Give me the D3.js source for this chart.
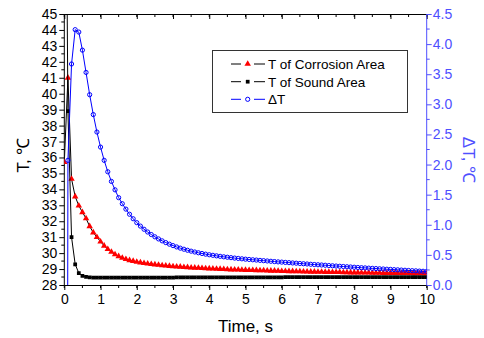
<!DOCTYPE html>
<html><head><meta charset="utf-8">
<script src="https://cdn.jsdelivr.net/npm/d3@7"></script>
<style>
html,body{margin:0;padding:0;background:#fff;}
svg{display:block;font-family:Arial,"Liberation Sans",sans-serif;}
</style></head>
<body>
<svg id="chart" width="484" height="338"></svg>
<script>
const time = [0,0.1,0.2,0.3,0.4,0.5,0.6,0.7,0.8,0.9,1,1.1,1.2,1.3,1.4,1.5,1.6,1.7,1.8,1.9,2,2.1,2.2,2.3,2.4,2.5,2.6,2.7,2.8,2.9,3,3.1,3.2,3.3,3.4,3.5,3.6,3.7,3.8,3.9,4,4.1,4.2,4.3,4.4,4.5,4.6,4.7,4.8,4.9,5,5.1,5.2,5.3,5.4,5.5,5.6,5.7,5.8,5.9,6,6.1,6.2,6.3,6.4,6.5,6.6,6.7,6.8,6.9,7,7.1,7.2,7.3,7.4,7.5,7.6,7.7,7.8,7.9,8,8.1,8.2,8.3,8.4,8.5,8.6,8.7,8.8,8.9,9,9.1,9.2,9.3,9.4,9.5,9.6,9.7,9.8,9.9,10];

const tCorrosion = [35.7,41.0,34.65,33.55,32.98,32.56,32.18,31.68,31.29,31.0,30.72,30.46,30.25,30.07,29.92,29.80,29.70,29.62,29.55,29.50,29.45,29.41,29.37,29.34,29.31,29.28,29.26,29.23,29.21,29.19,29.17,
29.15,29.14,29.12,29.11,29.09,29.08,29.07,29.05,29.04,29.03,
29.02,29.01,29.00,28.99,28.98,28.97,28.96,28.96,28.95,28.94,
28.93,28.93,28.92,28.91,28.91,28.90,28.89,28.89,28.88,28.87,
28.87,28.86,28.86,28.85,28.85,28.84,28.84,28.83,28.83,28.82,
28.82,28.81,28.81,28.80,28.80,28.80,28.79,28.79,28.78,28.78,
28.78,28.77,28.77,28.77,28.76,28.76,28.76,28.75,28.75,28.75,
28.75,28.74,28.74,28.74,28.74,28.73,28.73,28.73,28.73,28.73];

const tSound = [70,38.9,31.0,29.3,28.75,28.58,28.51,28.48,28.47,28.47,28.47,
28.47,28.47,28.47,28.47,28.47,28.47,28.47,28.47,28.47,28.47,28.47,28.47,28.47,28.47,28.47,28.47,28.47,28.47,28.47,28.47,
28.48,28.48,28.48,28.48,28.48,28.48,28.48,28.48,28.48,28.48,28.48,28.48,28.48,28.48,28.48,28.48,28.48,28.48,28.48,28.48,28.48,28.48,28.48,28.48,28.48,28.48,28.48,28.48,28.48,28.48,
28.49,28.49,28.49,28.49,28.49,28.49,28.49,28.49,28.49,28.49,28.49,28.49,28.49,28.49,28.49,28.49,28.49,28.49,28.49,28.49,
28.5,28.5,28.5,28.5,28.5,28.5,28.5,28.5,28.5,28.5,28.5,28.5,28.5,28.5,28.5,28.5,28.5,28.5,28.5,28.5];

const deltaT = [-34.3,2.07,3.67,4.24,4.20,3.90,3.53,3.16,2.83,2.54,2.29,
2.07,1.88,1.72,1.58,1.45,1.35,1.26,1.175,1.10,1.035,
0.978,0.926,0.880,0.838,0.800,0.765,0.733,0.704,0.678,0.654,
0.632,0.612,0.594,0.577,0.562,0.548,0.535,0.523,0.512,0.502,
0.493,0.484,0.476,0.468,0.461,0.454,0.447,0.441,0.435,0.429,
0.424,0.419,0.414,0.409,0.404,0.399,0.394,0.389,0.384,0.380,
0.375,0.371,0.366,0.362,0.357,0.353,0.349,0.344,0.340,0.336,
0.332,0.328,0.323,0.319,0.315,0.311,0.307,0.303,0.299,0.295,
0.291,0.287,0.284,0.280,0.276,0.273,0.269,0.266,0.262,0.259,
0.255,0.252,0.248,0.245,0.241,0.238,0.235,0.231,0.228,0.225];

const xTicks = [0,1,2,3,4,5,6,7,8,9,10];
const yLeftTicks = [28,29,30,31,32,33,34,35,36,37,38,39,40,41,42,43,44,45];
const yRightTicks = [0,0.5,1,1.5,2,2.5,3,3.5,4,4.5];
const legendLabels = ["T of Corrosion Area","T of Sound Area","\u0394T"];

(function(){
const L = 64.3, R = 426.7, T = 14, B = 285;
const AXBLUE = "#4f4fff";
const svg = d3.select("#chart");

const x = d3.scaleLinear().domain([0,10]).range([L,R]);
const yL = d3.scaleLinear().domain([28,45]).range([B,T]);
const yR = d3.scaleLinear().domain([0,4.5]).range([B,T]);

svg.append("defs").append("clipPath").attr("id","clip")
  .append("rect").attr("x",L).attr("y",T).attr("width",R-L).attr("height",B-T);

const fs = 14;
const minorX = d3.range(0,10.01,0.5);
const gBottom = svg.append("g").attr("transform",`translate(0,${B})`)
  .call(d3.axisBottom(x).tickValues(xTicks).tickSize(5).tickSizeOuter(0).tickFormat(d3.format("d")));
gBottom.selectAll("text").attr("font-size",fs).attr("fill","#000").attr("dy","0.9em").attr("y",6);
gBottom.selectAll("line").attr("stroke","#000");
gBottom.select(".domain").remove();
svg.append("g").selectAll("line").data(minorX).join("line")
  .attr("x1",d=>x(d)).attr("x2",d=>x(d)).attr("y1",B).attr("y2",B+3).attr("stroke","#000");

const gTop = svg.append("g").attr("transform",`translate(0,${T})`)
  .call(d3.axisTop(x).tickValues(xTicks).tickSize(-5).tickSizeOuter(0).tickFormat(""));
gTop.selectAll("line").attr("stroke","#000");
gTop.select(".domain").remove();
svg.append("g").selectAll("line").data(minorX).join("line")
  .attr("x1",d=>x(d)).attr("x2",d=>x(d)).attr("y1",T).attr("y2",T+3).attr("stroke","#000");

const gLeft = svg.append("g").attr("transform",`translate(${L},0)`)
  .call(d3.axisLeft(yL).tickValues(yLeftTicks).tickSize(5).tickSizeOuter(0).tickFormat(d3.format("d")));
gLeft.selectAll("text").attr("font-size",fs).attr("fill","#000").attr("x",-7);
gLeft.selectAll("line").attr("stroke","#000");
gLeft.select(".domain").remove();
svg.append("g").selectAll("line").data(d3.range(28.5,45,1)).join("line")
  .attr("x1",L-3).attr("x2",L).attr("y1",d=>yL(d)).attr("y2",d=>yL(d)).attr("stroke","#000");

const gRight = svg.append("g").attr("transform",`translate(${R},0)`)
  .call(d3.axisRight(yR).tickValues(yRightTicks).tickSize(5).tickSizeOuter(0).tickFormat(d3.format(".1f")));
gRight.selectAll("text").attr("font-size",fs).attr("fill",AXBLUE).attr("x",6);
gRight.selectAll("line").attr("stroke",AXBLUE);
gRight.select(".domain").remove();
svg.append("g").selectAll("line").data(d3.range(0.25,4.5,0.5)).join("line")
  .attr("x1",R).attr("x2",R+3).attr("y1",d=>yR(d)).attr("y2",d=>yR(d)).attr("stroke",AXBLUE);

svg.append("line").attr("x1",L).attr("x2",R).attr("y1",B+0.5).attr("y2",B+0.5).attr("stroke","#000");
svg.append("line").attr("x1",L).attr("x2",R).attr("y1",T+0.5).attr("y2",T+0.5).attr("stroke","#000");
svg.append("line").attr("x1",L).attr("x2",L).attr("y1",T).attr("y2",B+0.5).attr("stroke","#000");
svg.append("line").attr("x1",R).attr("x2",R).attr("y1",T).attr("y2",B+0.5).attr("stroke",AXBLUE);

const plot = svg.append("g").attr("clip-path","url(#clip)");
const idx = d3.range(time.length);
const triSym = d3.symbol().type(d3.symbolTriangle).size(18);
const sqSym = d3.symbol().type(d3.symbolSquare).size(14);

plot.append("path").datum(idx).attr("fill","none").attr("stroke","#000").attr("stroke-width",1)
  .attr("d",d3.line().x(i=>x(time[i])).y(i=>yL(tCorrosion[i])));
plot.append("g").selectAll("path").data(idx).join("path")
  .attr("d",triSym).attr("fill","#ff0000")
  .attr("transform",i=>`translate(${x(time[i])},${yL(tCorrosion[i])})`);

plot.append("path").datum(idx).attr("fill","none").attr("stroke","#000").attr("stroke-width",1)
  .attr("d",d3.line().x(i=>x(time[i])).y(i=>yL(tSound[i])));
plot.append("g").selectAll("path").data(idx).join("path")
  .attr("d",sqSym).attr("fill","#000")
  .attr("transform",i=>`translate(${x(time[i])},${yL(tSound[i])})`);

plot.append("path").datum(idx).attr("fill","none").attr("stroke","#0000ff").attr("stroke-width",1)
  .attr("d",d3.line().x(i=>x(time[i])).y(i=>yR(deltaT[i])));
plot.append("g").selectAll("circle").data(idx).join("circle")
  .attr("cx",i=>x(time[i])).attr("cy",i=>yR(deltaT[i])).attr("r",2.1)
  .attr("fill","none").attr("stroke","#0000ff").attr("stroke-width",1);

svg.append("text").attr("x",(L+R)/2).attr("y",332).attr("text-anchor","middle")
  .attr("font-size",17).attr("fill","#000").text("Time, s");
svg.append("text").attr("transform","translate(29,155) rotate(-90)").attr("text-anchor","middle")
  .attr("font-size",17).attr("fill","#000").text("T, \u2103");
svg.append("text").attr("transform","translate(463,160) rotate(90)").attr("text-anchor","middle")
  .attr("font-size",17).attr("fill",AXBLUE).text("\u0394T, \u2103");

const lg = svg.append("g");
lg.append("rect").attr("x",212.5).attr("y",50.5).attr("width",195).attr("height",62)
  .attr("fill","#fff").attr("stroke","#333").attr("stroke-width",1);
const rowsY = [64,81.7,99.3];
const lineCols = ["#000","#000","#0000ff"];
legendLabels.forEach((lab,k)=>{
  const yy = rowsY[k];
  lg.append("line").attr("x1",231).attr("x2",241).attr("y1",yy).attr("y2",yy).attr("stroke",lineCols[k]);
  lg.append("line").attr("x1",254).attr("x2",265).attr("y1",yy).attr("y2",yy).attr("stroke",lineCols[k]);
  if(k===0) lg.append("path").attr("d",triSym).attr("fill","#ff0000").attr("transform",`translate(247.7,${yy})`);
  if(k===1) lg.append("path").attr("d",sqSym).attr("fill","#000").attr("transform",`translate(247.7,${yy})`);
  if(k===2) lg.append("circle").attr("cx",247.7).attr("cy",yy).attr("r",2.1).attr("fill","none").attr("stroke","#0000ff");
  lg.append("text").attr("x",268).attr("y",yy+4.8).attr("font-size",13.5).attr("fill","#000").text(lab);
});
})();
</script>
</body></html>
